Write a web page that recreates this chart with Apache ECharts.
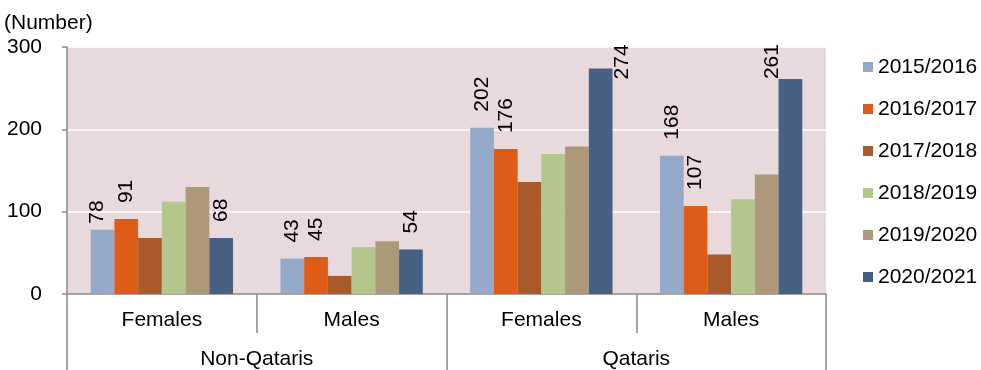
<!DOCTYPE html>
<html>
<head>
<meta charset="utf-8">
<script src="https://cdn.jsdelivr.net/npm/echarts@6/dist/echarts.min.js"></script>
<style>
  html, body { margin: 0; padding: 0; background: #fff; }
  #chart { width: 981px; height: 370px; }
</style>
</head>
<body>
<div id="chart"></div>
<script>
// Categories: gender within nationality group
const genders = ["Females", "Males", "Females", "Males"];
const groups = ["Non-Qataris", "Qataris"];
const years = ["2015/2016", "2016/2017", "2017/2018", "2018/2019", "2019/2020", "2020/2021"];

// Values per academic year, in order of the gender categories above
const y2015 = [78, 43, 202, 168];
const y2016 = [91, 45, 176, 107];
const y2017 = [68, 22, 136, 48];
const y2018 = [112, 57, 170, 115];
const y2019 = [130, 64, 179, 145];
const y2020 = [68, 54, 274, 261];

const yTicks = [0, 100, 200, 300];

const seriesValues = [y2015, y2016, y2017, y2018, y2019, y2020];
const colors = ["#94A9C8", "#DF5C18", "#A9592A", "#B3C78D", "#AD987A", "#465F82"];
// Series whose bars carry value labels
const labelled = [true, true, false, false, false, true];
// Hand-placed labels, given as screen shifts [right, down]
const labelShift = { "0-0": [-5, 10], "5-2": [22, 27], "5-3": [-18, 16] };

const FONT = "Liberation Sans, Arial, sans-serif";
const FS = 21;

const series = seriesValues.map((vals, si) => ({
  name: years[si],
  type: "bar",
  xAxisIndex: 0,
  barGap: "0%",
  barCategoryGap: "25%",
  itemStyle: { color: colors[si] },
  data: vals.map((v, ci) => {
    const item = { value: v };
    const s = labelShift[si + "-" + ci];
    // label offset is applied in the rotated text frame
    if (s) item.label = { offset: [-s[1], s[0]] };
    return item;
  }),
  label: {
    show: labelled[si],
    position: "top",
    distance: 16,
    rotate: 90,
    align: "left",
    verticalAlign: "middle",
    color: "#000",
    fontFamily: FONT,
    fontSize: FS
  },
  emphasis: { disabled: true }
}));

const chart = echarts.init(document.getElementById("chart"), null, { renderer: "canvas" });
chart.setOption({
  animation: false,
  backgroundColor: "#fff",
  title: {
    text: "(Number)",
    left: 4,
    top: 13,
    padding: 0,
    textStyle: { fontFamily: FONT, fontSize: FS, fontWeight: "normal", color: "#000" }
  },
  grid: { left: 67, right: 155, top: 47, bottom: 75, show: true, backgroundColor: "#E8D9DC", borderWidth: 0 },
  legend: {
    orient: "vertical",
    left: 858,
    top: 51,
    itemWidth: 10,
    itemHeight: 10,
    itemGap: 20,
    icon: "rect",
    data: years,
    textStyle: { fontFamily: FONT, fontSize: FS, color: "#000", lineHeight: 22 }
  },
  xAxis: [
    {
      type: "category",
      data: genders,
      position: "bottom",
      axisLine: { show: true, lineStyle: { color: "#888", width: 1.5 } },
      axisTick: { show: true, length: 39, lineStyle: { color: "#888", width: 1.5 } },
      axisLabel: { margin: 16, fontFamily: FONT, fontSize: FS, color: "#000", interval: 0 },
      splitLine: { show: false }
    },
    {
      type: "category",
      data: groups,
      position: "bottom",
      offset: 0,
      axisLine: { show: false },
      axisTick: { show: true, length: 80, lineStyle: { color: "#888", width: 1.5 } },
      axisLabel: { margin: 55, fontFamily: FONT, fontSize: FS, color: "#000", interval: 0 },
      splitLine: { show: false }
    }
  ],
  yAxis: {
    type: "value",
    min: yTicks[0],
    max: yTicks[yTicks.length - 1],
    interval: yTicks[1] - yTicks[0],
    axisLine: { show: true, lineStyle: { color: "#888", width: 1.5 } },
    axisTick: { show: true, length: 5, lineStyle: { color: "#888", width: 1.5 } },
    axisLabel: { margin: 25, fontFamily: FONT, fontSize: FS, color: "#000" },
    splitLine: { show: true, lineStyle: { color: "#fff", width: 1.5 } }
  },
  series: series
});
</script>
</body>
</html>
